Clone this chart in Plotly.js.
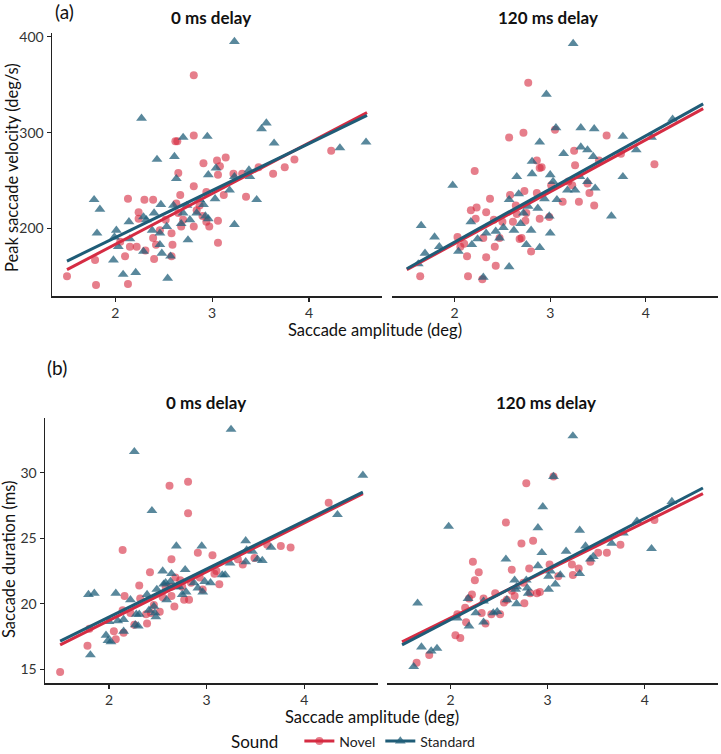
<!DOCTYPE html>
<html>
<head>
<meta charset="utf-8">
<script src="https://cdn.plot.ly/plotly-3.0.1.min.js"></script>
<style>html,body{margin:0;padding:0;background:#fff;}#chart{width:721px;height:754px;}</style>
</head>
<body>
<div id="chart"></div>
<script>
// ---------- DATA ----------
const panelTitles = ['0 ms delay', '120 ms delay'];
const seriesNames = ['Novel', 'Standard'];
const legendTitle = 'Sound';
const xTitle = 'Saccade amplitude (deg)';
const velTitle = 'Peak saccade velocity (deg/s)';
const durTitle = 'Saccade duration (ms)';
const xTickVals = [2, 3, 4];
const velTickVals = [200, 300, 400];
const durTickVals = [15, 20, 25, 30];

// (a) Peak velocity, 0 ms delay
const vel0NovelX = [1.50,1.79,1.80,2.10,2.13,2.13,2.05,2.15,2.22,2.24,2.24,2.30,2.39,2.31,2.39,2.42,2.40,2.46,2.52,2.58,2.59,2.58,2.65,2.63,2.65,2.62,2.64,2.67,2.68,2.70,2.81,2.81,2.81,2.81,2.84,2.87,2.90,2.91,2.94,2.97,3.06,3.06,3.05,3.06,3.08,3.14,3.12,3.22,3.35,3.31,3.48,3.63,3.75,3.85,4.23,2.94];
const vel0NovelY = [150,167,141,171,142,231,186,181,181,217,210,230,230,177,190,183,168,198,209,195,183,171,216,226,258,291,291,235,202,209,244,202,297,360,219,224,213,268,207,202,185,208,271,256,265,274,235,257,233,257,264,257,264,272,281,238];
const vel0StdX = [1.78,1.81,1.84,1.98,1.99,2.01,2.03,2.08,2.14,2.15,2.21,2.27,2.29,2.29,2.32,2.38,2.40,2.43,2.47,2.46,2.46,2.48,2.53,2.54,2.57,2.60,2.61,2.63,2.68,2.70,2.70,2.74,2.75,2.77,2.84,2.87,2.91,2.93,2.95,2.96,3.03,3.04,3.18,3.23,3.23,3.23,3.38,3.39,3.46,3.51,3.56,3.64,4.32,4.59,2.96];
const vel0StdY = [230,195,220,167,191,198,181,152,207,189,154,315,176,212,209,198,216,272,225,195,183,174,202,148,171,224,275,252,205,295,216,224,188,209,216,230,225,213,296,256,231,263,240,254,204,395,261,254,230,304,310,289,284,290,210];

// (a) Peak velocity, 120 ms delay
const vel120NovelX = [1.64,2.03,2.06,2.10,2.13,2.14,2.17,2.21,2.22,2.23,2.29,2.30,2.33,2.33,2.37,2.41,2.42,2.43,2.47,2.50,2.57,2.58,2.61,2.64,2.65,2.68,2.70,2.72,2.73,2.74,2.75,2.77,2.80,2.86,2.89,2.89,2.91,3.01,3.05,3.13,3.19,3.23,3.25,3.26,3.30,3.39,3.41,3.46,3.51,3.59,3.74,4.09,2.86,2.99];
const vel120NovelY = [150,191,181,184,171,150,219,260,210,222,147,190,217,170,231,209,181,161,190,207,295,235,207,224,215,189,190,300,239,208,216,352,176,271,263,210,264,245,303,228,249,245,281,266,228,247,237,224,271,297,278,267,237,212];
const vel120StdX = [1.62,1.65,1.69,1.79,1.84,1.98,2.04,2.17,2.18,2.24,2.30,2.33,2.43,2.47,2.51,2.57,2.57,2.62,2.65,2.67,2.69,2.72,2.75,2.77,2.80,2.81,2.81,2.87,2.89,2.89,2.94,2.96,2.99,3.00,3.00,3.03,3.06,3.07,3.14,3.18,3.24,3.26,3.31,3.32,3.32,3.39,3.39,3.45,3.46,3.47,3.64,3.76,3.76,3.90,4.06,4.28];
const vel120StdY = [163,203,174,191,181,245,176,207,183,189,149,195,197,190,201,230,160,198,254,236,205,216,183,223,198,257,270,221,180,290,231,340,213,195,256,249,305,230,278,240,393,240,254,285,305,249,282,275,304,242,213,296,254,282,295,314];

// (b) Duration, 0 ms delay
const dur0NovelX = [1.50,1.78,1.80,2.05,2.07,2.14,2.15,2.16,2.14,2.22,2.26,2.31,2.32,2.38,2.39,2.42,2.43,2.46,2.52,2.55,2.58,2.62,2.64,2.64,2.67,2.68,2.75,2.77,2.81,2.81,2.82,2.84,2.91,2.93,2.96,3.06,3.08,3.10,3.13,3.32,3.37,3.49,3.62,3.76,3.86,4.25,2.64,2.73];
const dur0NovelY = [14.8,16.8,18.1,17.9,17.3,24.1,17.8,20.6,19.5,19.3,18.4,21.4,20.4,19.2,18.5,22.4,19.3,19.9,19.4,20.5,21.3,29.0,23.4,20.6,19.8,22.0,21.3,20.3,29.3,26.9,20.3,21.6,23.9,22.0,21.1,23.7,22.3,22.5,21.5,23.4,23.0,23.5,24.5,24.4,24.3,27.7,21.3,21.8];
const dur0StdX = [1.79,1.85,1.81,1.97,1.99,2.02,2.07,2.09,2.15,2.15,2.22,2.26,2.27,2.31,2.39,2.44,2.47,2.48,2.49,2.55,2.56,2.59,2.63,2.64,2.69,2.69,2.75,2.78,2.79,2.87,2.91,2.95,2.96,2.98,3.04,3.19,3.24,3.25,3.40,3.40,3.41,3.47,3.52,3.57,3.66,4.34,4.60,2.00,2.28,2.30,2.41,2.46,2.58,2.72,3.16];
const dur0StdY = [20.7,20.8,16.1,17.6,17.2,17.1,20.8,18.7,18.8,17.9,20.3,31.6,18.4,19.2,20.7,27.1,19.3,19.0,21.1,22.5,21.5,20.3,21.7,22.3,24.4,21.3,20.7,22.6,20.9,21.6,21.2,24.4,20.9,21.7,21.6,22.2,23.1,33.3,24.8,23.2,24.1,24.0,23.4,23.3,24.3,26.8,29.8,18.65,19.2,18.3,19.5,19.8,21.6,21.3,22.2];

// (b) Duration, 120 ms delay
const dur120NovelX = [1.65,1.78,2.05,2.10,2.07,2.15,2.16,2.19,2.22,2.23,2.25,2.29,2.32,2.34,2.36,2.42,2.46,2.51,2.57,2.58,2.63,2.63,2.66,2.73,2.75,2.76,2.78,2.81,2.82,2.85,2.89,2.92,3.02,3.06,3.11,3.25,3.26,3.32,3.44,3.52,3.61,3.75,4.10,2.55];
const dur120NovelY = [15.5,16.1,17.6,17.4,19.2,19.7,18.6,20.4,20.7,23.2,21.8,22.4,19.3,20.4,18.5,19.2,20.8,19.2,26.2,20.3,22.6,21.0,20.6,24.6,21.6,20.05,29.2,22.7,20.8,24.8,20.8,20.9,23.0,29.7,22.1,23.0,22.2,22.7,23.2,23.9,23.9,24.5,26.4,20.1];
const dur120StdX = [1.62,1.70,1.80,1.86,1.66,1.98,2.07,2.18,2.19,2.26,2.34,2.44,2.48,2.57,2.58,2.66,2.67,2.68,2.79,2.80,2.90,2.94,2.95,2.90,3.01,3.01,3.03,3.06,3.08,3.13,3.19,3.26,3.33,3.33,3.39,3.44,3.47,3.66,3.78,3.92,4.07,4.28,2.78,2.68,2.34];
const dur120StdY = [15.2,16.7,16.4,16.6,20.05,25.9,18.9,20.4,18.3,19.3,18.6,19.3,19.4,23.4,20.3,21.8,21.1,20.0,21.2,20.8,25.8,23.9,27.4,22.9,21.1,22.1,22.5,29.7,21.5,22.2,24.0,32.8,22.3,25.6,24.4,23.4,23.6,24.6,25.4,26.3,24.2,27.8,21.8,21.3,20.2];

// Fitted regression lines (end points)
const fitX = [1.5, 4.6];
const velFit0Novel = [157, 321];
const velFit0Std = [166, 318];
const velFit120Novel = [157, 325];
const velFit120Std = [158, 330];
const durFit0Novel = [16.87, 28.4];
const durFit0Std = [17.15, 28.52];
const durFit120Novel = [17.1, 28.4];
const durFit120Std = [16.87, 28.83];

// ---------- STYLE ----------
const W = 721, H = 754;
const FONT = 'Lato, "Open Sans", sans-serif';
const novelPt = 'rgba(214,40,62,0.6)';
const stdPt = 'rgba(31,94,122,0.74)';
const novelLine = '#D52C43';
const stdLine = '#1F5C77';

const px = v => v / W;
const py = v => 1 - v / H;

const traces = [];
function addPanel(xa, ya, nx, ny, sx, sy, fn, fs) {
  traces.push({x: nx, y: ny, xaxis: xa, yaxis: ya, type: 'scatter', mode: 'markers', showlegend: false,
    marker: {symbol: 'circle', size: 8, color: novelPt, line: {width: 0}}});
  traces.push({x: sx, y: sy, xaxis: xa, yaxis: ya, type: 'scatter', mode: 'markers', showlegend: false,
    marker: {symbol: 'triangle-up', size: 9.5, color: stdPt, line: {width: 0}}});
  traces.push({x: fitX, y: fn, xaxis: xa, yaxis: ya, type: 'scatter', mode: 'lines', showlegend: false,
    line: {color: novelLine, width: 3}});
  traces.push({x: fitX, y: fs, xaxis: xa, yaxis: ya, type: 'scatter', mode: 'lines', showlegend: false,
    line: {color: stdLine, width: 3}});
}
addPanel('x', 'y', vel0NovelX, vel0NovelY, vel0StdX, vel0StdY, velFit0Novel, velFit0Std);
addPanel('x2', 'y2', vel120NovelX, vel120NovelY, vel120StdX, vel120StdY, velFit120Novel, velFit120Std);
addPanel('x3', 'y3', dur0NovelX, dur0NovelY, dur0StdX, dur0StdY, durFit0Novel, durFit0Std);
addPanel('x4', 'y4', dur120NovelX, dur120NovelY, dur120StdX, dur120StdY, durFit120Novel, durFit120Std);

// legend entries
traces.push({x: [null], y: [null], type: 'scatter', mode: 'lines+markers', name: seriesNames[0],
  line: {color: novelLine, width: 3}, marker: {symbol: 'circle', size: 8, color: novelPt}});
traces.push({x: [null], y: [null], type: 'scatter', mode: 'lines+markers', name: seriesNames[1],
  line: {color: stdLine, width: 3}, marker: {symbol: 'triangle-up', size: 9.5, color: stdPt}});

const tickFont = {family: FONT, size: 14, color: '#333'};
function xAxis(d, anchor) {
  return {domain: d, anchor: anchor, range: [1.345, 4.755], tickvals: xTickVals, ticktext: xTickVals.map(String),
    showline: true, linecolor: '#222', linewidth: 1.5, ticks: 'outside', ticklen: 4, tickwidth: 1.2, tickcolor: '#222',
    showgrid: false, zeroline: false, tickfont: tickFont, fixedrange: true};
}
function yAxis(d, anchor, range, tv, visible) {
  return {domain: d, anchor: anchor, range: range, tickvals: tv, ticktext: tv.map(String), visible: visible,
    showline: true, linecolor: '#222', linewidth: 1.5, ticks: 'outside', ticklen: 4, tickwidth: 1.2, tickcolor: '#222',
    showgrid: false, zeroline: false, tickfont: tickFont, fixedrange: true};
}
const topY = [py(296), py(33)];
const botY = [py(683), py(418)];
const velRange = [129.5, 404];
const durRange = [13.96, 34.17];

const ann = [];
function txt(text, x, y, size, opts) {
  ann.push(Object.assign({text: text, x: px(x), y: py(y), xref: 'paper', yref: 'paper', showarrow: false,
    xanchor: 'center', yanchor: 'middle', font: {family: FONT, size: size, color: '#111'}}, opts || {}));
}
txt('(a)', 64, 12, 19);
txt('(b)', 57, 367, 19);
txt('<b>' + panelTitles[0] + '</b>', 211, 17, 17);
txt('<b>' + panelTitles[1] + '</b>', 548, 17, 17);
txt('<b>' + panelTitles[0] + '</b>', 206, 403, 17);
txt('<b>' + panelTitles[1] + '</b>', 546, 403, 17);
txt(xTitle, 375, 330, 16.5);
txt(xTitle, 372, 717, 16.5);
txt(velTitle, 12, 168, 16.5, {textangle: -90});
txt(durTitle, 9, 560, 16.5, {textangle: -90});

const layout = {
  width: W, height: H,
  margin: {l: 0, r: 0, t: 0, b: 0, autoexpand: false},
  paper_bgcolor: '#fff', plot_bgcolor: '#fff',
  font: {family: FONT, color: '#111'},
  showlegend: true,
  legend: {orientation: 'h', x: px(229), xanchor: 'left', y: py(742), yanchor: 'middle',
    font: {family: FONT, size: 14, color: '#222'},
    title: {text: legendTitle + '\u00A0\u00A0\u00A0', side: 'left', font: {family: FONT, size: 17, color: '#111'}},
    itemwidth: 30, bgcolor: 'rgba(0,0,0,0)'},
  xaxis: xAxis([px(52), px(382)], 'y'),
  yaxis: yAxis(topY, 'x', velRange, velTickVals, true),
  xaxis2: xAxis([px(392), px(718)], 'y2'),
  yaxis2: yAxis(topY, 'x2', velRange, velTickVals, false),
  xaxis3: xAxis([px(45), px(378)], 'y3'),
  yaxis3: yAxis(botY, 'x3', durRange, durTickVals, true),
  xaxis4: xAxis([px(387), px(718)], 'y4'),
  yaxis4: yAxis(botY, 'x4', durRange, durTickVals, false),
  annotations: ann
};

Plotly.newPlot('chart', traces, layout, {staticPlot: true, displayModeBar: false});
</script>
</body>
</html>
